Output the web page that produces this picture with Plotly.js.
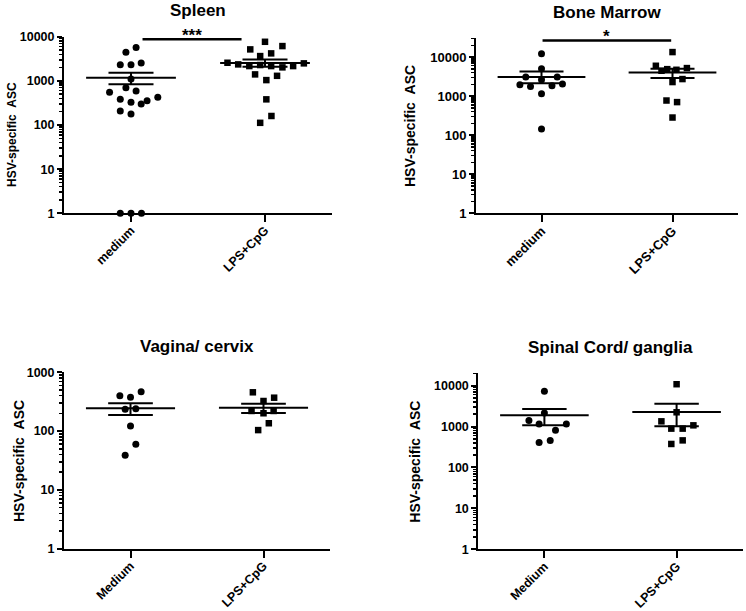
<!DOCTYPE html>
<html>
<head>
<meta charset="utf-8">
<script src="https://cdn.plot.ly/plotly-3.0.1.min.js"></script>
<style>html,body{margin:0;padding:0;background:#fff;}#chart{width:746px;height:611px;}</style>
</head>
<body>
<div id="chart"></div>
<script>
// ---------------- data ----------------
const panelTitles = ["Spleen", "Bone Marrow", "Vagina/ cervix", "Spinal Cord/ ganglia"];
const yAxisLabel = "HSV-specific  ASC";
const catsTop = ["medium", "LPS+CpG"];
const catsBottom = ["Medium", "LPS+CpG"];

// Spleen
const spleenMediumVals = [5730, 4420, 2310, 2310, 2530, 1100, 698, 588, 549, 381, 326, 298, 354, 423, 207, 177, 1, 1, 1];
const spleenMediumJit  = [0.038, -0.038, -0.08, 0, 0.076, 0, -0.038, 0.038, -0.16, -0.08, 0, 0.076, 0.12, 0.2, -0.08, 0, -0.08, 0, 0.078];
const spleenLpsVals = [7670, 6130, 5160, 4190, 3640, 2570, 2360, 2160, 2280, 2160, 2020, 2160, 2490, 1400, 1300, 1040, 381, 160, 112];
const spleenLpsJit  = [0, 0.13, -0.11, 0.046, -0.036, -0.28, -0.2, -0.117, -0.036, 0.046, 0.13, 0.21, 0.29, -0.074, 0.09, 0.01, 0.01, 0.048, -0.036];
const spleenMean = [1175, 2530];
const spleenSemHi = [1525, 3050];
const spleenSemLo = [833, 2080];

// Bone marrow
const bmMediumVals = [12160, 5010, 3070, 2620, 3070, 1950, 1760, 1840, 2030, 1150, 143];
const bmMediumJit  = [0, 0, -0.12, 0, 0.12, -0.165, -0.084, 0.08, 0.16, 0, 0];
const bmLpsVals = [13400, 5980, 4460, 4900, 4720, 5220, 2730, 2290, 771, 702, 283];
const bmLpsJit  = [0, -0.127, -0.084, -0.04, 0.03, 0.11, 0.076, 0, -0.046, 0.035, 0];
const bmMean = [3070, 4030];
const bmSemHi = [4270, 5010];
const bmSemLo = [2150, 2890];

// Vagina / cervix
const vagMediumVals = [468, 400, 376, 235, 240, 122, 60, 39];
const vagMediumJit  = [0.08, -0.08, 0, -0.04, 0.04, 0, 0.04, -0.04];
const vagLpsVals = [457, 370, 325, 220, 201, 220, 136, 104];
const vagLpsJit  = [-0.08, 0.08, 0, -0.09, 0, 0.076, 0.04, -0.04];
const vagMean = [244, 250];
const vagSemHi = [297, 292];
const vagSemLo = [188, 204];

// Spinal cord / ganglia
const scMediumVals = [7290, 2150, 1400, 1160, 1160, 807, 459, 410];
const scMediumJit  = [0, 0, -0.117, -0.04, 0.166, 0.084, 0.044, -0.04];
const scLpsVals = [10820, 2230, 1340, 889, 889, 1070, 459, 375];
const scLpsJit  = [0, 0, -0.115, -0.04, 0.046, 0.127, 0.046, -0.04];
const scMean = [1880, 2280];
const scSemHi = [2700, 3580];
const scSemLo = [1070, 1010];

// significance
const sigLabels = ["***", "*"];
const sigX = [[0.086, 0.825], [0.008, 0.99]];
const sigY = [8700, 26650];

// ---------------- styling ----------------
const FONT = "Liberation Sans, Arial, Helvetica, sans-serif";
const MEAN_HALF = 0.335, SEM_HALF = 0.168;

const panels = [
  {med: spleenMediumVals, medJ: spleenMediumJit, lps: spleenLpsVals, lpsJ: spleenLpsJit, mean: spleenMean, hi: spleenSemHi, lo: spleenSemLo, cats: catsTop,
   xd: [64/746, 332/746], yd: [1-213.3/611, 1-36.7/611], yr: [0, 4], tf: 12.5, lf: 12, lab: [12, 135], ttl: [198, 11]},
  {med: bmMediumVals, medJ: bmMediumJit, lps: bmLpsVals, lpsJ: bmLpsJit, mean: bmMean, hi: bmSemHi, lo: bmSemLo, cats: catsTop,
   xd: [476/746, 738/746], yd: [1-213.3/611, 1-38.3/611], yr: [0, 4.48], tf: 13, lf: 14, lab: [410, 126], ttl: [607, 12.7]},
  {med: vagMediumVals, medJ: vagMediumJit, lps: vagLpsVals, lpsJ: vagLpsJit, mean: vagMean, hi: vagSemHi, lo: vagSemLo, cats: catsBottom,
   xd: [64/746, 330/746], yd: [1-548.7/611, 1-372.3/611], yr: [0, 3], tf: 12.5, lf: 14, lab: [18.3, 460.7], ttl: [197.3, 346]},
  {med: scMediumVals, medJ: scMediumJit, lps: scLpsVals, lpsJ: scLpsJit, mean: scMean, hi: scSemHi, lo: scSemLo, cats: catsBottom,
   xd: [478.3/746, 742.7/746], yd: [1-549.3/611, 1-373.3/611], yr: [0, 4.301], tf: 12.5, lf: 14, lab: [415, 461.7], ttl: [610.3, 347.7]}
];

const traces = [];
const layout = {
  width: 746, height: 611,
  margin: {l: 0, r: 0, t: 0, b: 0},
  paper_bgcolor: "#fff", plot_bgcolor: "#fff",
  showlegend: false,
  font: {family: FONT, color: "#000"},
  annotations: []
};

panels.forEach((p, i) => {
  const n = i === 0 ? "" : String(i + 1);
  const xa = "x" + n, ya = "y" + n;
  traces.push({type: "scatter", mode: "markers", xaxis: xa, yaxis: ya,
    x: p.medJ.map(j => 0 + j), y: p.med, cliponaxis: false,
    marker: {symbol: "circle", size: 7, color: "#000"}, hoverinfo: "y"});
  traces.push({type: "scatter", mode: "markers", xaxis: xa, yaxis: ya,
    x: p.lpsJ.map(j => 1 + j), y: p.lps, cliponaxis: false,
    marker: {symbol: "square", size: 6.5, color: "#000"}, hoverinfo: "y"});
  [0, 1].forEach(c => {
    traces.push({type: "scatter", mode: "lines", xaxis: xa, yaxis: ya, hoverinfo: "skip",
      x: [c - MEAN_HALF, c + MEAN_HALF], y: [p.mean[c], p.mean[c]],
      line: {color: "#000", width: 2}});
    traces.push({type: "scatter", mode: "lines", xaxis: xa, yaxis: ya, hoverinfo: "skip",
      x: [c - SEM_HALF, c + SEM_HALF, null, c, c, null, c - SEM_HALF, c + SEM_HALF],
      y: [p.hi[c], p.hi[c], null, p.hi[c], p.lo[c], null, p.lo[c], p.lo[c]],
      line: {color: "#000", width: 2}});
  });
  if (i < 2) {
    traces.push({type: "scatter", mode: "lines", xaxis: xa, yaxis: ya, hoverinfo: "skip", cliponaxis: false,
      x: sigX[i], y: [sigY[i], sigY[i]], line: {color: "#000", width: 2.5}});
    layout.annotations.push({xref: xa, yref: ya, x: (sigX[i][0] + sigX[i][1]) / 2, y: Math.log10(sigY[i]),
      text: sigLabels[i], showarrow: false, yanchor: "bottom", yshift: -8,
      font: {family: FONT, size: 17, color: "#000", weight: "bold"}});
  }
  layout["xaxis" + n] = {
    domain: p.xd, anchor: ya, range: [-0.5, 1.5],
    tickmode: "array", tickvals: [0, 1], ticktext: p.cats, tickangle: -45,
    ticks: "outside", ticklen: 7, tickwidth: 2, tickcolor: "#000",
    ticklabelstandoff: -4,
    showline: true, linewidth: 2, linecolor: "#000",
    showgrid: false, zeroline: false, fixedrange: true,
    tickfont: {family: FONT, size: p.tf, color: "#000", weight: "bold"}
  };
  layout["yaxis" + n] = {
    domain: p.yd, anchor: xa, type: "log", range: p.yr,
    tickmode: "linear", tick0: 0, dtick: 1, tickformat: "d",
    ticks: "outside", ticklen: 5, tickwidth: 2, tickcolor: "#000",
    minor: {ticks: "outside", ticklen: 3, tickwidth: 1.5, tickcolor: "#000", dtick: "D1", showgrid: false},
    showline: true, linewidth: 2, linecolor: "#000",
    showgrid: false, zeroline: false, fixedrange: true,
    tickfont: {family: FONT, size: p.tf, color: "#000", weight: "bold"}
  };
  layout.annotations.push({xref: "paper", yref: "paper", x: p.lab[0] / 746, y: 1 - p.lab[1] / 611,
    text: yAxisLabel.replace(/  /g, " &nbsp;"), textangle: -90, showarrow: false, xanchor: "center", yanchor: "middle",
    font: {family: FONT, size: p.lf, color: "#000", weight: "bold"}});
  layout.annotations.push({xref: "paper", yref: "paper", x: p.ttl[0] / 746, y: 1 - p.ttl[1] / 611,
    text: panelTitles[i], showarrow: false, xanchor: "center", yanchor: "middle",
    font: {family: FONT, size: 17, color: "#000", weight: "bold"}});
});

Plotly.newPlot("chart", traces, layout, {staticPlot: true, displayModeBar: false});
</script>
</body>
</html>
